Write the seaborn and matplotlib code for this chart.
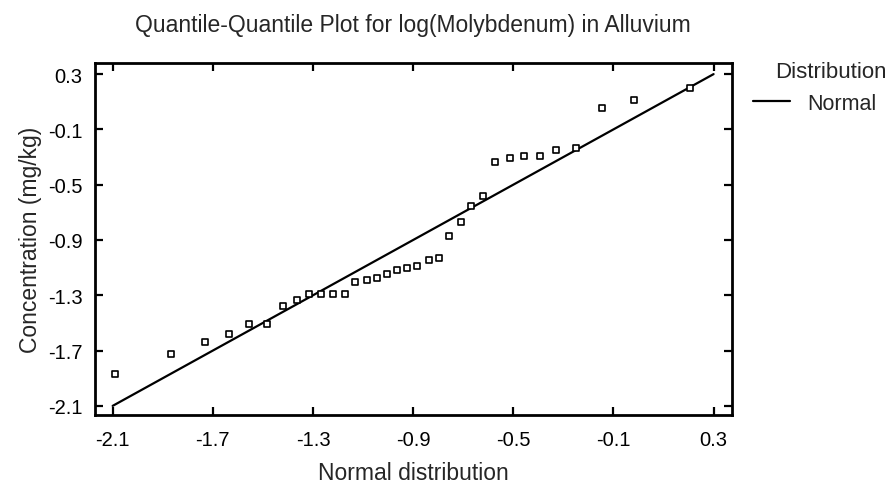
import numpy as np
import pandas as pd
import seaborn as sns
import matplotlib
matplotlib.use("Agg")
import matplotlib.pyplot as plt

# =========================
# DATA
# =========================

normal_q = [-2.091, -1.867, -1.731, -1.634, -1.554, -1.483, -1.420, -1.363,
            -1.315, -1.267, -1.219, -1.171, -1.131, -1.084, -1.043, -1.003,
            -0.963, -0.923, -0.883, -0.835, -0.795, -0.755, -0.707, -0.667,
            -0.619, -0.571, -0.515, -0.459, -0.395, -0.331, -0.251, -0.147,
            -0.019, 0.205]
log_conc = [-1.868, -1.724, -1.637, -1.579, -1.507, -1.507, -1.376, -1.333,
            -1.290, -1.290, -1.290, -1.290, -1.203, -1.188, -1.174, -1.145,
            -1.116, -1.101, -1.087, -1.044, -1.029, -0.870, -0.769, -0.653,
            -0.580, -0.334, -0.305, -0.291, -0.291, -0.248, -0.233, 0.056,
            0.114, 0.201]

# fitted normal line (end points)
fit_x = [-2.1, 0.3]
fit_y = [-2.1, 0.3]

ticks = [-2.1, -1.7, -1.3, -0.9, -0.5, -0.1, 0.3]
tick_labels = ["-2.1", "-1.7", "-1.3", "-0.9", "-0.5", "-0.1", "0.3"]

df = pd.DataFrame({"x": normal_q, "y": log_conc})
fit = pd.DataFrame({"x": fit_x, "y": fit_y, "Distribution": ["Normal"] * 2})

# =========================
# PLOT
# =========================

sns.set_style("ticks")
plt.rcParams["font.family"] = ["Liberation Sans", "DejaVu Sans"]

fig = plt.figure(figsize=(8.95, 4.89), dpi=100)
ax = fig.add_axes([0.106, 0.149, 0.712, 0.720])

sns.scatterplot(data=df, x="x", y="y", ax=ax, marker="s", s=16,
                facecolor="white", edgecolor="black", linewidth=1.2,
                legend=False, zorder=3)
sns.lineplot(data=fit, x="x", y="y", hue="Distribution",
             palette=["black"], ax=ax, linewidth=1.6, zorder=2)

ax.set_xlim(-2.171, 0.374)
ax.set_ylim(-2.167, 0.38)
ax.set_xticks(ticks)
ax.set_xticklabels(tick_labels)
ax.set_yticks(ticks)
ax.set_yticklabels(tick_labels)
ax.tick_params(direction="in", top=True, right=True, length=6, width=1.6,
               labelsize=14.5, colors="black")
ax.tick_params(axis="x", pad=11)
ax.tick_params(axis="y", pad=9)
for sp in ax.spines.values():
    sp.set_visible(True)
    sp.set_linewidth(2)
    sp.set_color("black")

ax.set_xlabel("Normal distribution", fontsize=16.5, labelpad=8)
ax.set_ylabel("Concentration (mg/kg)", fontsize=16.5, labelpad=4)

fig.text(0.461, 0.948, "Quantile-Quantile Plot for log(Molybdenum) in Alluvium",
         ha="center", va="center", fontsize=16.5)

# legend: title drawn on its own, entry below it
ax.legend(loc="center left", bbox_to_anchor=(753 / 895, 1 - 104 / 489),
          bbox_transform=fig.transFigure, frameon=False, title=None,
          fontsize=15.5, handlelength=1.7, handletextpad=0.8,
          borderpad=0, borderaxespad=0)
fig.text(887 / 895, 1 - 72 / 489, "Distribution", ha="right", va="center",
         fontsize=16)

fig.savefig("out.png", dpi=100)
